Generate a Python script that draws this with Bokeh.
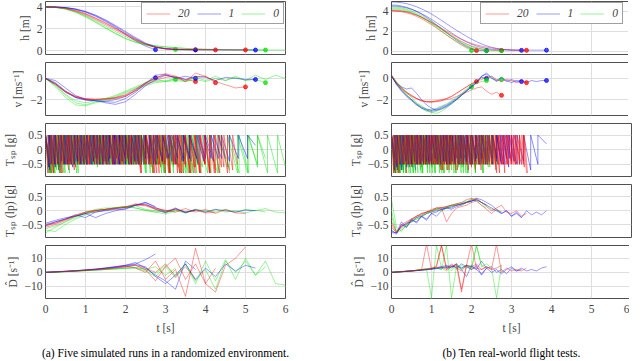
from bokeh.plotting import figure
from bokeh.models import Range1d, FixedTicker, Legend, LegendItem, Title, CustomJSTickFormatter
from bokeh.layouts import row, column
from bokeh.embed import file_html
from bokeh.resources import INLINE

SERIF = "Liberation Serif"
FS = "11.5px"
LINE_COLORS = {"red": "#ff0000", "blue": "#0000ff", "green": "#00e000"}
DRAW_ORDER = ["green", "blue", "red"]
LEGEND_LABELS = [("red", "20"), ("blue", "1"), ("green", "0")]
X_TICKS = [0, 1, 2, 3, 4, 5, 6]

CAPTION_SIM = "(a) Five simulated runs in a randomized environment."
CAPTION_REAL = "(b) Ten real-world flight tests."
YLABELS = ["h [m]", "v [ms\u207b\u00b9]", "T\u209b\u209a [g]", "T\u209b\u209a (lp) [g]", "D\u0302 [s\u207b\u00b9]"]
YTICKS = [[0, 2, 4], [-2, 0], [-0.5, 0, 0.5], [-0.5, 0, 0.5], [-10, 0, 10]]
YRANGES_SIM = [(-0.36, 4.5), (-3.5, 1.5), (-0.92, 0.9), (-0.97, 0.95), (-18.5, 19.0)]
YRANGES_REAL = [(-0.3, 4.95), (-3.5, 1.5), (-0.92, 0.9), (-0.97, 0.95), (-18.5, 19.0)]

# ---------------- simulated runs (left), time grid 0.25 s ----------------
SIM_T = [0.0, 0.25, 0.5, 0.75, 1.0, 1.25, 1.5, 1.75, 2.0, 2.25, 2.5, 2.75, 3.0, 3.25,
         3.5, 3.75, 4.0, 4.25, 4.5, 4.75, 5.0, 5.25, 5.5, 5.75, 6.0]

SIM_H_RED = [
    [4.0, 3.98, 3.9, 3.7, 3.4, 3.0, 2.55, 2.05, 1.55, 1.05, 0.6, 0.3, 0.15, 0.1, 0.08, 0.07],
    [4.0, 3.98, 3.88, 3.66, 3.35, 2.95, 2.5, 2.0, 1.5, 1.0, 0.6, 0.32, 0.18, 0.12, 0.1, 0.08, 0.07, 0.06],
    [4.0, 3.97, 3.86, 3.62, 3.28, 2.85, 2.38, 1.9, 1.42, 0.95, 0.55, 0.3, 0.18, 0.12, 0.1, 0.09, 0.08, 0.07, 0.07, 0.06, 0.06],
]
SIM_H_BLUE = [
    [4.0, 3.99, 3.93, 3.78, 3.52, 3.15, 2.68, 2.12, 1.5, 0.9, 0.4, 0.08],
    [4.0, 3.99, 3.94, 3.8, 3.56, 3.2, 2.75, 2.22, 1.65, 1.1, 0.62, 0.3, 0.15, 0.09, 0.07, 0.06],
    [4.0, 3.99, 3.95, 3.82, 3.6, 3.26, 2.82, 2.3, 1.75, 1.2, 0.7, 0.35, 0.17, 0.11, 0.09, 0.08, 0.07, 0.07, 0.06, 0.06, 0.06, 0.05],
]
SIM_H_GREEN = [
    [4.0, 3.96, 3.82, 3.55, 3.15, 2.65, 2.1, 1.58, 1.1, 0.75, 0.5, 0.32, 0.2, 0.1],
    [4.0, 3.95, 3.8, 3.5, 3.08, 2.58, 2.05, 1.55, 1.1, 0.78, 0.55, 0.42, 0.33, 0.25, 0.2, 0.15, 0.12, 0.1, 0.08, 0.07, 0.06, 0.06, 0.05],
    [4.0, 3.96, 3.83, 3.57, 3.2, 2.75, 2.25, 1.75, 1.28, 0.88, 0.6, 0.45, 0.35, 0.27, 0.2, 0.15, 0.12, 0.1, 0.08, 0.07, 0.06, 0.06, 0.05, 0.05, 0.05],
]

SIM_V_RED = [
    [0, -0.6, -1.3, -1.75, -1.95, -2.0, -1.95, -1.9, -1.7, -1.2, -0.6, -0.2, 0.1, 0.2, -0.1, -0.3],
    [0, -0.5, -1.2, -1.7, -1.9, -2.0, -1.95, -1.85, -1.6, -1.15, -0.5, 0.1, 0.3, 0.05, -0.2, 0.1, 0.2, -0.4],
    [0, -0.55, -1.25, -1.7, -1.95, -1.95, -1.9, -1.8, -1.55, -1.0, -0.45, 0.0, 0.45, 0.2, -0.3, 0.5, 0.2, -0.3, -0.6, -0.9, -0.8],
]
SIM_V_BLUE = [
    [0, -0.2, -0.9, -1.6, -2.0, -2.1, -2.15, -2.0, -1.7, -1.1, -0.4, 0.05],
    [0, -0.4, -1.2, -1.8, -2.0, -2.1, -2.2, -2.25, -1.9, -1.3, -0.5, 0.3, 0.4, 0.0, 0.2, 0.0],
    [0, -0.5, -1.3, -1.8, -2.05, -2.1, -2.3, -2.45, -2.2, -1.5, -0.7, -0.1, 0.3, 0.1, -0.1, 0.2, 0.1, -0.2, 0.1, 0.0, -0.1, -0.1],
]
SIM_V_GREEN = [
    [0, -0.7, -1.6, -2.3, -2.5, -2.2, -2.0, -1.7, -1.3, -0.9, -0.5, -0.3, -0.2, -0.1],
    [0, -0.8, -1.8, -2.5, -2.6, -2.3, -2.1, -1.8, -1.4, -1.0, -0.7, -0.4, -0.3, -0.2, -0.3, -0.1, -0.3, 0.0, -0.2, 0.1, -0.2, -0.1, -0.4],
    [0, -0.6, -1.5, -2.1, -2.3, -2.1, -1.9, -1.6, -1.2, -0.8, -0.4, -0.1, -0.3, 0.0, -0.3, 0.1, -0.2, 0.2, -0.2, 0.2, -0.2, 0.3, -0.1, 0.3, 0.0],
]

# thrust setpoint: spike instants (jump to 0.5) and the low value reached before the next spike
SIM_TSP_SPIKES_RED = [
    [0, .12, .22, .35, .45, .58, .7, .8, .93, 1.05, 1.15, 1.28, 1.4, 1.52, 1.62, 1.75, 1.88, 2.0, 2.1, 2.22, 2.35, 2.48, 2.6, 2.7, 2.82, 2.95, 3.08, 3.2, 3.32, 3.45, 3.58, 3.7],
    [0, .08, .2, .3, .42, .52, .65, .75, .88, 1.0, 1.1, 1.22, 1.35, 1.45, 1.58, 1.7, 1.8, 1.93, 2.05, 2.15, 2.28, 2.4, 2.52, 2.65, 2.78, 2.88, 3.0, 3.12, 3.25, 3.38, 3.5, 3.62, 3.75, 3.88, 4.0, 4.12, 4.25],
    [0, .15, .25, .38, .5, .6, .72, .85, .97, 1.08, 1.2, 1.32, 1.43, 1.55, 1.68, 1.78, 1.9, 2.02, 2.13, 2.25, 2.38, 2.5, 2.62, 2.73, 2.85, 2.98, 3.1, 3.22, 3.35, 3.47, 3.6, 3.72, 3.85, 3.98, 4.1, 4.25, 4.4, 4.55, 4.68, 4.8],
    [0, .06, .13, .19, .26, .32, .39, .45, .52, .58, .65, .71, .78, .84, .91, .97, 1.04, 1.1, 1.17, 1.23, 1.3, 1.36, 1.43, 1.49, 1.56, 1.62, 1.69, 1.75, 1.82, 1.88, 1.95, 2.01, 2.08, 2.14, 2.21, 2.27, 2.34, 2.4, 2.47, 2.53, 2.6, 2.68, 2.76, 2.84, 2.92, 3.0, 3.1, 3.2, 3.3, 3.4, 3.5, 3.62, 3.74, 3.86, 3.98, 4.1, 4.22, 4.34, 4.46, 4.6],
]
SIM_TSP_TROUGHS_RED = [
    [-.8, -.6, -.8, -.5, -.7, -.5, -.5, -.4, -.5, -.5, -.3, -.5, -.5, -.5, -.2, -.5, -.5, -.5, -.4, -.5, -.5, -.5, -.8, -.5, -.5, -.8, -.5, -.6, -.8, -.5, -.8],
    [-.6, -.8, -.5, -.8, -.5, -.5, -.6, -.5, -.3, -.5, -.5, -.5, -.4, -.5, -.5, -.5, -.5, -.3, -.5, -.5, -.8, -.5, -.5, -.8, -.6, -.5, -.8, -.5, -.8, -.5, -.8, -.6, -.8, -.5, -.8, -.7],
    [-.8, -.5, -.8, -.5, -.5, -.7, -.5, -.5, -.5, -.4, -.5, -.5, -.5, -.5, -.3, -.5, -.5, -.5, -.5, -.8, -.5, -.5, -.8, -.5, -.5, -.8, -.5, -.8, -.5, -.8, -.6, -.8, -.5, -.8, -.8, -.6, -.8, -.7, -.5],
    [-.8, -.5, -.8, -.5, -.5, -.5, -.4, -.5, -.5, -.5, -.5, -.3, -.5, -.5, -.5, -.5, -.5, -.4, -.5, -.5, -.5, -.5, -.5, -.5, -.3, -.5, -.5, -.5, -.5, -.5, -.4, -.5, -.5, -.5, -.5, -.5, -.5, -.5, -.5, -.5, -.8, -.5, -.8, -.5, -.8, -.8, -.5, -.8, -.8, -.6, -.8, -.8, -.8, -.5, -.8, -.8, -.8, -.6, -.8],
]
SIM_TSP_SPIKES_BLUE = [
    [0, .1, .2, .33, .45, .55, .68, .8, .9, 1.02, 1.15, 1.25, 1.38, 1.5, 1.6, 1.73, 1.85, 1.97, 2.08, 2.2, 2.32, 2.45, 2.58, 2.7],
    [0, .13, .25, .37, .48, .6, .73, .85, .97, 1.1, 1.22, 1.35, 1.47, 1.6, 1.72, 1.85, 1.98, 2.1, 2.23, 2.36, 2.5, 2.63, 2.78, 2.93, 3.08, 3.25, 3.42, 3.6, 3.8],
    [0, .11, .23, .36, .5, .62, .76, .9, 1.03, 1.17, 1.3, 1.44, 1.58, 1.72, 1.86, 2.0, 2.15, 2.3, 2.45, 2.6, 2.75, 2.92, 3.1, 3.28, 3.46, 3.64, 3.82, 4.0, 4.2, 4.4, 4.6, 4.82, 5.05, 5.25],
    [0, .08, .16, .24, .32, .4, .48, .56, .64, .72, .8, .88, .96, 1.04, 1.12, 1.2, 1.28, 1.36, 1.44, 1.52, 1.6, 1.68, 1.76, 1.84, 1.92, 2.0, 2.08, 2.16, 2.24, 2.32, 2.4, 2.5, 2.6, 2.7, 2.8, 2.92, 3.04, 3.16, 3.3, 3.45, 3.6, 3.78, 3.96, 4.14, 4.32, 4.5],
]
SIM_TSP_TROUGHS_BLUE = [
    [-.6, -.5, -.7, -.5, -.5, -.6, -.5, -.4, -.5, -.5, -.3, -.5, -.4, -.5, -.5, -.2, -.5, -.4, -.5, -.5, -.3, -.5, -.4],
    [-.5, -.6, -.5, -.5, -.4, -.5, -.5, -.5, -.3, -.5, -.5, -.4, -.5, -.5, -.5, -.2, -.5, -.4, -.5, -.5, -.3, -.5, -.4, -.3, -.5, -.4, -.3, -.4],
    [-.7, -.5, -.6, -.5, -.5, -.4, -.5, -.5, -.5, -.3, -.5, -.4, -.5, -.5, -.3, -.5, -.4, -.5, -.3, -.5, -.4, -.3, -.5, -.3, -.4, -.5, -.3, -.4, -.3, -.4, -.3, -.3, .15],
    [-.6, -.5, -.5, -.5, -.4, -.5, -.5, -.5, -.5, -.4, -.5, -.5, -.5, -.5, -.4, -.5, -.5, -.5, -.5, -.3, -.5, -.5, -.5, -.4, -.5, -.5, -.5, -.4, -.5, -.5, -.3, -.4, -.5, -.3, -.4, -.3, -.4, -.3, -.4, -.3, -.3, -.4, -.3, -.3, -.3],
]
SIM_TSP_SPIKES_GREEN = [
    [0, .1, .22, .34, .46, .58, .7, .82, .94, 1.06, 1.18, 1.3, 1.42, 1.54, 1.66, 1.78, 1.9, 2.02, 2.14, 2.26, 2.38, 2.5, 2.62, 2.74, 2.86, 2.98, 3.1, 3.2, 3.3],
    [0, .14, .26, .4, .52, .66, .78, .92, 1.04, 1.18, 1.3, 1.44, 1.56, 1.7, 1.82, 1.96, 2.08, 2.22, 2.36, 2.5, 2.64, 2.8, 2.96, 3.12, 3.3, 3.5, 3.7, 3.92, 4.14, 4.36, 4.6, 4.84, 5.08, 5.3, 5.5],
    [0, .12, .24, .36, .48, .6, .74, .88, 1.0, 1.14, 1.26, 1.4, 1.52, 1.66, 1.8, 1.92, 2.06, 2.2, 2.34, 2.48, 2.64, 2.8, 2.98, 3.16, 3.36, 3.58, 3.8, 4.05, 4.3, 4.55, 4.8, 5.05, 5.3, 5.55, 5.8, 6.0],
    [0, .07, .14, .21, .28, .35, .42, .49, .56, .63, .7, .77, .84, .91, .98, 1.05, 1.12, 1.19, 1.26, 1.33, 1.4, 1.47, 1.54, 1.61, 1.68, 1.75, 1.82, 1.89, 1.96, 2.03, 2.1, 2.17, 2.24, 2.31, 2.38, 2.45, 2.52, 2.6, 2.7, 2.8, 2.9, 3.0, 3.1, 3.2, 3.3, 3.42, 3.54, 3.66, 3.78, 3.9],
]
SIM_TSP_TROUGHS_GREEN = [
    [-.8, -.8, -.6, -.8, -.5, -.5, -.8, -.5, -.5, -.5, -.6, -.5, -.5, -.5, -.5, -.4, -.5, -.5, -.5, -.6, -.5, -.8, -.5, -.5, -.8, -.5, -.6, -.5],
    [-.8, -.6, -.8, -.5, -.5, -.8, -.5, -.5, -.5, -.5, -.5, -.5, -.3, -.5, -.5, -.5, -.5, -.5, -.8, -.5, -.5, -.8, -.8, -.5, -.8, -.8, -.6, -.8, -.8, -.7, -.8, -.8, -.6, -.3],
    [-.8, -.8, -.7, -.5, -.8, -.5, -.5, -.5, -.4, -.5, -.5, -.5, -.5, -.3, -.5, -.5, -.5, -.5, -.5, -.6, -.5, -.8, -.5, -.8, -.8, -.5, -.8, -.8, -.6, -.8, -.8, -.5, -.8, -.8, -.6],
    [-.8, -.8, -.8, -.7, -.8, -.5, -.8, -.5, -.5, -.5, -.5, -.5, -.5, -.5, -.5, -.5, -.5, -.5, -.5, -.5, -.5, -.5, -.5, -.5, -.5, -.5, -.5, -.5, -.5, -.5, -.5, -.5, -.5, -.5, -.5, -.8, -.5, -.8, -.5, -.8, -.5, -.8, -.8, -.5, -.8, -.8, -.8, -.8, -.8],
]

SIM_TLP_RED = [
    [-0.55, -0.45, -0.3, -0.15, -0.05, 0.0, 0.05, 0.08, 0.12, 0.2, 0.22, 0.1, 0.0, 0.05, -0.05, 0.0],
    [-0.6, -0.5, -0.35, -0.2, -0.08, 0.0, 0.05, 0.1, 0.15, 0.22, 0.18, 0.05, -0.05, 0.05, -0.05, 0.03, -0.08, -0.05],
    [-0.5, -0.45, -0.32, -0.18, -0.05, 0.02, 0.05, 0.1, 0.12, 0.25, 0.2, 0.08, 0.02, -0.05, 0.08, -0.05, 0.05, -0.1, 0.05, -0.08, -0.1],
]
SIM_TLP_BLUE = [
    [-0.5, -0.4, -0.3, -0.2, -0.1, -0.05, 0.02, 0.08, 0.12, 0.2, 0.3, 0.15],
    [-0.55, -0.4, -0.3, -0.15, -0.25, -0.05, 0.0, 0.05, 0.05, 0.2, 0.25, 0.05, -0.08, 0.08, -0.05, 0.02],
    [-0.45, -0.35, -0.25, -0.2, -0.1, -0.25, -0.1, 0.0, 0.08, 0.2, 0.3, 0.12, -0.05, 0.1, -0.08, 0.05, -0.05, 0.05, 0.0, -0.05, 0.02, 0.0],
]
SIM_TLP_GREEN = [
    [-0.8, -0.6, -0.4, -0.25, -0.1, 0.0, 0.05, 0.1, 0.15, 0.1, 0.02, -0.05, 0.0, -0.05],
    [-0.7, -0.75, -0.5, -0.3, -0.15, 0.0, 0.05, 0.12, 0.15, 0.1, 0.0, -0.05, -0.12, 0.0, -0.08, 0.02, -0.05, 0.05, -0.05, 0.0, -0.08, 0.02, -0.05],
    [-0.65, -0.55, -0.4, -0.2, -0.05, 0.05, 0.1, 0.1, 0.15, 0.18, 0.05, 0.0, -0.05, 0.02, -0.06, 0.05, 0.0, -0.05, 0.05, -0.05, 0.05, 0.0, 0.08, -0.05, -0.08],
]

SIM_D_RED = [
    [0, 0.3, 0.7, 1, 1.5, 2, 2.5, 3.2, 4, 5, 3, 0, 6, -3, 4, -5],
    [0, 0.4, 0.8, 1.2, 1.6, 2.2, 2.8, 3.5, 4.5, 3, 0, 8, -5, 2, -17, 17, -8, 3],
    [0, 0.3, 0.6, 1, 1.4, 1.8, 2.3, 3, 3.8, 5, 2, -6, 4, 10, -5, 6, -8, -14, 5, 10, 18],
]
SIM_D_BLUE = [
    [0, 0.3, 0.6, 1, 1.5, 2, 3, 4, 5, 6, 9, 13],
    [0, 0.4, 0.8, 1.2, 1.8, 2.4, 3.2, 4, 5, 7, 3, -2, -6, -12, 8, 2],
    [0, 0.3, 0.7, 1.1, 1.6, 2.2, 2.8, 3.6, 4.5, 5.5, 4, -3, -8, -2, 6, -5, 3, -3, 6, 1, 5, 3],
]
SIM_D_GREEN = [
    [0, 0.2, 0.5, 0.8, 1.1, 1.5, 2, 2.5, 3, 3.5, 2, 4, -2, 3],
    [0, 0.2, 0.5, 0.8, 1.2, 1.6, 2, 2.4, 2.8, 3, 1, -3, 4, -4, 6, -6, 2, -12, 8, 0, 8, -2, 4],
    [0, 0.3, 0.6, 0.9, 1.3, 1.7, 2.1, 2.5, 3, 3.5, 2, -1, 5, -2, 6, -8, 8, -6, 9, -5, 10, -2, 8, -8, -9],
]

# ---------------- real flights (right), time grid 0.125 s ----------------
REAL_T = [0.0, 0.125, 0.25, 0.375, 0.5, 0.625, 0.75, 0.875, 1.0, 1.125, 1.25, 1.375, 1.5, 1.625,
          1.75, 1.875, 2.0, 2.125, 2.25, 2.375, 2.5, 2.625, 2.75, 2.875, 3.0, 3.125, 3.25, 3.375,
          3.5, 3.625, 3.75, 3.875]

REAL_H_RED = [
    [4.0, 3.98, 3.93, 3.83, 3.68, 3.48, 3.24, 2.96, 2.65, 2.32, 1.98, 1.64, 1.3, 0.98, 0.68, 0.42, 0.22, 0.1],
    [4.1, 4.08, 4.03, 3.94, 3.8, 3.62, 3.4, 3.14, 2.85, 2.54, 2.22, 1.9, 1.58, 1.28, 1.0, 0.75, 0.54, 0.38, 0.26, 0.18, 0.13, 0.11, 0.1],
    [4.05, 4.03, 3.98, 3.9, 3.77, 3.6, 3.39, 3.15, 2.88, 2.6, 2.3, 2.0, 1.72, 1.45, 1.2, 0.98, 0.8, 0.65, 0.53, 0.43, 0.35, 0.28, 0.22, 0.18, 0.15, 0.13, 0.12, 0.11],
]
REAL_H_BLUE = [
    [4.6, 4.58, 4.5, 4.38, 4.2, 3.98, 3.7, 3.38, 3.02, 2.64, 2.25, 1.86, 1.48, 1.12, 0.8, 0.52, 0.3, 0.16, 0.1, 0.08],
    [4.9, 4.88, 4.83, 4.74, 4.6, 4.43, 4.22, 3.98, 3.7, 3.4, 3.08, 2.75, 2.42, 2.1, 1.8, 1.5, 1.22, 0.97, 0.75, 0.56, 0.42, 0.31, 0.23, 0.17, 0.14, 0.12, 0.11],
    [4.5, 4.48, 4.42, 4.32, 4.17, 3.98, 3.75, 3.48, 3.18, 2.86, 2.52, 2.18, 1.84, 1.52, 1.22, 0.95, 0.72, 0.54, 0.4, 0.3, 0.23, 0.19, 0.16, 0.15, 0.14, 0.14, 0.13, 0.13, 0.13, 0.13, 0.13, 0.13],
]
REAL_H_GREEN = [
    [4.3, 4.28, 4.22, 4.1, 3.92, 3.7, 3.42, 3.1, 2.75, 2.38, 2.0, 1.64, 1.28, 0.95, 0.62, 0.35, 0.1],
    [4.4, 4.38, 4.32, 4.2, 4.03, 3.82, 3.56, 3.27, 2.95, 2.6, 2.24, 1.88, 1.52, 1.18, 0.86, 0.58, 0.36, 0.2, 0.12, 0.08],
    [4.2, 4.18, 4.12, 4.0, 3.84, 3.63, 3.38, 3.1, 2.8, 2.48, 2.15, 1.82, 1.5, 1.2, 0.92, 0.68, 0.48, 0.33, 0.22, 0.15, 0.11, 0.09, 0.08],
]

REAL_V_RED = [
    [0.2, -0.5, -1.0, -1.4, -1.7, -1.9, -2.1, -2.2, -2.2, -2.1, -2.0, -1.9, -1.7, -1.4, -1.1, -0.8, -0.5, -0.3],
    [0.2, -0.4, -0.9, -1.3, -1.6, -1.9, -2.1, -2.2, -2.2, -2.15, -2.1, -2.0, -1.9, -1.7, -1.5, -1.3, -1.1, -0.9, -0.8, -1.2, -1.5, -1.3, -1.6],
    [0.3, -0.4, -0.9, -1.3, -1.6, -1.9, -2.1, -2.2, -2.25, -2.2, -2.1, -1.9, -1.7, -1.4, -1.1, -0.8, -0.5, -0.3, -0.1, 0.1, 0.2, -0.1, -0.3, -0.1, -0.2, -0.4, -0.3, -0.4],
]
REAL_V_BLUE = [
    [0.2, -0.5, -0.8, -1.0, -0.9, -1.4, -2.0, -2.5, -2.8, -3.0, -2.9, -2.7, -2.4, -2.0, -1.6, -1.2, -0.8, -0.4, 0.1, 0.0],
    [0.3, -0.6, -1.2, -1.7, -2.1, -2.5, -2.8, -3.0, -3.1, -3.0, -2.8, -2.6, -2.3, -2.0, -1.6, -1.2, -0.8, -0.4, 0.2, 0.5, 0.1, -0.3, 0.0, -0.2, -0.4, -0.2, -0.3],
    [0.2, -0.5, -1.1, -1.6, -2.0, -2.4, -2.7, -2.9, -3.0, -2.9, -2.7, -2.5, -2.2, -1.9, -1.5, -1.1, -0.7, -0.3, 0.2, 0.4, 0.0, -0.2, 0.1, -0.3, -0.1, -0.3, -0.2, -0.4, -0.2, -0.3, -0.2, -0.2],
]
REAL_V_GREEN = [
    [0.3, -0.5, -1.1, -1.6, -2.0, -2.4, -2.8, -3.0, -3.2, -3.3, -3.1, -2.8, -2.4, -2.0, -1.6, -1.2, -0.8],
    [0.2, -0.4, -1.0, -1.5, -2.0, -2.5, -2.8, -3.1, -3.2, -3.1, -2.9, -2.6, -2.3, -2.0, -1.6, -1.2, -0.8, -0.5, -0.3, -0.2],
    [0.3, -0.3, -0.8, -1.3, -1.8, -2.3, -2.6, -2.9, -3.0, -2.8, -2.6, -2.4, -2.1, -1.8, -1.4, -1.0, -0.6, -0.3, 0.1, -0.1, 0.2, -0.2, -0.1],
]

REAL_TSP_SPIKES_RED = [
    [0, .09, .19, .28, .38, .47, .57, .66, .76, .85, .95, 1.04, 1.14, 1.23, 1.33, 1.42, 1.52, 1.61, 1.71, 1.8, 1.9, 2.0, 2.125],
    [0, .11, .21, .32, .42, .53, .63, .74, .84, .95, 1.05, 1.16, 1.26, 1.37, 1.47, 1.58, 1.68, 1.79, 1.89, 2.0, 2.1, 2.21, 2.31, 2.42, 2.52, 2.63, 2.75],
    [0, .1, .2, .3, .4, .5, .6, .7, .8, .9, 1.0, 1.1, 1.2, 1.3, 1.4, 1.5, 1.6, 1.7, 1.8, 1.9, 2.0, 2.1, 2.2, 2.3, 2.4, 2.5, 2.6, 2.7, 2.8, 2.9, 3.0, 3.1, 3.2, 3.3, 3.375],
    [0, .05, .11, .16, .21, .27, .32, .37, .43, .48, .53, .59, .64, .69, .75, .8, .85, .91, .96, 1.01, 1.07, 1.12, 1.17, 1.23, 1.28, 1.33, 1.39, 1.44, 1.49, 1.55, 1.6, 1.65, 1.71, 1.76, 1.81, 1.87, 1.92, 1.97, 2.03, 2.08, 2.13, 2.19, 2.24, 2.29, 2.35, 2.4, 2.45, 2.51, 2.56, 2.61, 2.67, 2.72, 2.77, 2.83, 2.88, 2.93, 2.99, 3.04, 3.09, 3.15, 3.2, 3.26, 3.32, 3.4],
]
REAL_TSP_TROUGHS_RED = [
    [-.8, -.8, -.5, -.8, -.5, -.5, -.5, -.6, -.5, -.5, -.5, -.5, -.7, -.5, -.5, -.5, -.7, -.5, -.5, -.5, -.6, -.5],
    [-.5, -.8, -.5, -.5, -.5, -.5, -.5, -.5, -.5, -.5, -.5, -.7, -.5, -.5, -.5, -.5, -.5, -.5, -.5, -.7, -.5, -.5, -.5, -.5, -.8, -.5],
    [-.8, -.5, -.5, -.5, -.6, -.5, -.5, -.5, -.5, -.5, -.5, -.5, -.5, -.7, -.5, -.5, -.5, -.5, -.5, -.5, -.7, -.5, -.5, -.5, -.5, -.5, -.8, -.5, -.5, -.5, -.5, -.5, -.5, -.8],
    [-.8, -.5, -.8, -.5, -.5, -.5, -.5, -.5, -.5, -.5, -.5, -.5, -.5, -.5, -.5, -.5, -.5, -.5, -.5, -.5, -.5, -.5, -.5, -.7, -.5, -.5, -.7, -.5, -.5, -.5, -.7, -.5, -.5, -.5, -.5, -.7, -.5, -.5, -.5, -.5, -.5, -.7, -.5, -.5, -.5, -.5, -.5, -.5, -.7, -.5, -.5, -.5, -.8, -.5, -.5, -.5, -.5, -.5, -.5, -.5, -.5, -.6, -.8],
]
REAL_TSP_SPIKES_BLUE = [
    [0, .15, .3, .45, .6, .72, .86, .98, 1.1, 1.22, 1.35, 1.47, 1.6, 1.72, 1.85, 1.97, 2.1, 2.22, 2.375],
    [0, .13, .26, .4, .53, .66, .8, .93, 1.06, 1.2, 1.33, 1.46, 1.6, 1.73, 1.86, 2.0, 2.13, 2.26, 2.4, 2.53, 2.66, 2.8, 2.93, 3.06, 3.25],
    [0, .12, .25, .38, .5, .63, .76, .88, 1.0, 1.13, 1.26, 1.38, 1.5, 1.63, 1.76, 1.88, 2.0, 2.13, 2.26, 2.38, 2.5, 2.63, 2.76, 2.88, 3.0, 3.13, 3.3, 3.48, 3.66, 3.875],
    [0, .07, .14, .22, .29, .36, .43, .51, .58, .65, .72, .8, .87, .94, 1.01, 1.09, 1.16, 1.23, 1.3, 1.38, 1.45, 1.52, 1.59, 1.67, 1.74, 1.81, 1.88, 1.96, 2.03, 2.1, 2.18, 2.26, 2.35, 2.44, 2.53, 2.63, 2.73, 2.84, 2.95, 3.08],
]
REAL_TSP_TROUGHS_BLUE = [
    [-.7, -.7, -.6, -.7, -.5, -.5, -.4, -.5, -.5, -.4, -.5, -.4, -.5, -.4, -.5, -.3, -.5, -.2],
    [-.6, -.7, -.5, -.6, -.5, -.5, -.4, -.5, -.5, -.4, -.5, -.4, -.4, -.5, -.4, -.3, -.5, -.4, -.3, -.5, -.5, -.6, -.4, -.5],
    [-.6, -.7, -.6, -.5, -.5, -.4, -.5, -.5, -.4, -.5, -.5, -.4, -.3, -.5, -.4, -.5, -.3, -.4, -.5, -.3, -.4, -.5, -.3, -.4, -.5, -.4, -.7, -.5, .2],
    [-.7, -.6, -.5, -.5, -.4, -.5, -.5, -.4, -.5, -.5, -.5, -.4, -.5, -.5, -.3, -.5, -.5, -.4, -.5, -.5, -.4, -.5, -.5, -.3, -.5, -.4, -.5, -.5, -.4, -.5, -.3, -.5, -.4, -.5, -.3, -.4, -.5, -.3, -.4],
]
REAL_TSP_SPIKES_GREEN = [
    [0, .08, .18, .26, .36, .45, .55, .64, .74, .83, .93, 1.02, 1.12, 1.21, 1.31, 1.4, 1.5, 1.6, 1.7, 1.8, 1.9, 2.0],
    [0, .1, .2, .3, .4, .5, .6, .7, .8, .9, 1.0, 1.1, 1.2, 1.3, 1.4, 1.5, 1.6, 1.7, 1.8, 1.9, 2.0, 2.1, 2.2, 2.3, 2.375],
    [0, .12, .22, .34, .44, .56, .66, .78, .88, 1.0, 1.1, 1.22, 1.32, 1.44, 1.54, 1.66, 1.76, 1.88, 1.98, 2.1, 2.2, 2.32, 2.42, 2.54, 2.64, 2.75],
    [0, .06, .12, .18, .24, .3, .36, .42, .48, .54, .6, .66, .72, .78, .84, .9, .96, 1.02, 1.08, 1.14, 1.2, 1.26, 1.32, 1.38, 1.44, 1.5, 1.56, 1.62, 1.68, 1.74, 1.8, 1.86, 1.92, 1.98, 2.04, 2.1, 2.16, 2.22, 2.28, 2.34, 2.4, 2.46, 2.52, 2.6],
]
REAL_TSP_TROUGHS_GREEN = [
    [-.8, -.8, -.6, -.8, -.5, -.8, -.5, -.8, -.5, -.5, -.8, -.5, -.6, -.8, -.5, -.5, -.8, -.5, -.6, -.8, -.5],
    [-.8, -.6, -.8, -.5, -.5, -.8, -.5, -.5, -.6, -.5, -.8, -.5, -.5, -.5, -.7, -.5, -.5, -.8, -.5, -.5, -.6, -.5, -.8, -.4],
    [-.7, -.8, -.5, -.8, -.5, -.5, -.8, -.5, -.6, -.5, -.5, -.8, -.5, -.5, -.5, -.6, -.5, -.5, -.8, -.5, -.5, -.6, -.5, -.5, -.3],
    [-.8, -.8, -.8, -.7, -.8, -.8, -.6, -.8, -.8, -.5, -.8, -.7, -.8, -.5, -.8, -.8, -.6, -.8, -.5, -.8, -.8, -.5, -.7, -.8, -.5, -.8, -.8, -.6, -.8, -.5, -.8, -.8, -.5, -.5, -.8, -.5, -.5, -.8, -.5, -.5, -.6, -.5, -.5],
]

REAL_TLP_RED = [
    [-0.5, -0.8, -0.6, -0.45, -0.3, -0.2, -0.1, -0.05, 0.0, 0.05, 0.1, -0.4, -0.1, 0.1, 0.15, 0.2, 0.3, 0.35],
    [-0.4, -0.75, -0.55, -0.5, -0.35, -0.2, -0.1, -0.05, 0.05, 0.1, 0.12, 0.15, 0.2, 0.25, 0.3, 0.4, 0.45, 0.35, 0.2, 0.05, -0.1, 0.05, -0.05],
    [-0.6, -0.8, -0.5, -0.4, -0.3, -0.2, -0.15, -0.05, 0.0, 0.1, 0.1, 0.15, 0.2, 0.2, 0.25, 0.3, 0.4, 0.45, 0.3, 0.15, 0.0, 0.1, 0.2, -0.05, -0.1, 0.0, -0.2, -0.1],
]
REAL_TLP_BLUE = [
    [-0.8, -0.8, -0.4, -0.6, -0.3, -0.45, -0.2, -0.35, -0.1, -0.2, 0.0, 0.1, 0.05, 0.15, 0.2, 0.3, 0.35, 0.4, 0.3, 0.2],
    [-0.7, -0.85, -0.5, -0.6, -0.35, -0.4, -0.2, -0.3, -0.1, -0.05, 0.05, 0.1, 0.15, 0.2, 0.25, 0.3, 0.35, 0.45, 0.4, 0.3, 0.2, 0.05, -0.1, 0.0, -0.2, -0.05, -0.25],
    [-0.75, -0.8, -0.55, -0.45, -0.4, -0.25, -0.2, -0.1, -0.05, 0.0, 0.05, 0.1, 0.1, 0.2, 0.25, 0.3, 0.35, 0.4, 0.3, 0.2, 0.1, 0.0, -0.1, 0.0, -0.2, -0.1, -0.25, 0.0, -0.15, -0.05, -0.15, 0.0],
]
REAL_TLP_GREEN = [
    [0.4, -0.6, -0.75, -0.5, -0.35, -0.25, -0.15, -0.05, 0.0, 0.1, 0.05, 0.15, 0.2, 0.25, 0.3, 0.35, 0.3],
    [-0.2, -0.8, -0.7, -0.55, -0.4, -0.3, -0.25, -0.1, 0.0, 0.05, 0.12, 0.1, 0.2, 0.25, 0.2, 0.3, 0.4, 0.35, 0.2, 0.1],
    [0.0, -0.75, -0.65, -0.5, -0.4, -0.3, -0.2, -0.1, -0.05, 0.05, 0.0, 0.1, 0.15, 0.2, 0.25, 0.3, 0.45, 0.4, 0.3, 0.2, 0.05, 0.0, -0.05],
]

REAL_D_RED = [
    [0, 0.2, 0.4, 0.7, 1, 1.4, 1.8, 20, 2, 5, 19, 3, 4, 6, -12, 5, 2, 4],
    [0, 0.3, 0.5, 0.8, 1.1, 1.5, 2, 2.5, 3, 4, 19, 2, 4, 6, -14, 5, 20, 3, 2, 4, 2, 3, 5],
    [0, 0.2, 0.5, 0.8, 1, 1.4, 1.8, 2.2, 2.8, 3.5, 4, 2, 6, 3, 1, 5, 4, 6, 2, 4, 2, 20, 0, 3, 1, 2, 1, 3],
]
REAL_D_BLUE = [
    [0, 0.2, 0.5, 0.8, 1, 1.3, 1.7, 2, 2.5, 3, 4, 5, 3, 6, 2, -3, 5, 2, 8, 3],
    [0, 0.3, 0.5, 0.7, 1, 1.3, 1.6, 2, 2.4, 3, 3.5, 4, 5, 3, 6, 4, 2, 5, -2, 3, 4, 0, 2, -1, 3, 1, 2],
    [0, 0.2, 0.4, 0.7, 1, 1.2, 1.5, 1.8, 2.2, 2.6, 3, 3.5, 4, 4.5, 3, 5, 4, 2, -1, 3, 0, 2, -1, 2, 4, 1, 3, 1, 2, 1, 3, 4],
]
REAL_D_GREEN = [
    [0, 0.3, 0.5, 0.8, 1, 1.5, 2, 2.5, -18, 19, 3, 1, 4, 2, 5, 3, 5],
    [0, 0.2, 0.5, 0.7, 1, 1.2, 1.6, 2, 2.5, 3, 2, 19, -18, 4, 2, 5, 3, 19, 5, 3],
    [0, 0.3, 0.6, 0.8, 1.2, 1.5, 2, 2.4, 3, 3.5, 2, 5, 1, 6, 3, 5, 2, 19, 4, 6, 3, -18, 5],
]


def sawtooth(spikes, troughs):
    xs, ys = [spikes[0]], [0.5]
    n = min(len(troughs), len(spikes) - 1)
    for i in range(n):
        xs.append(spikes[i + 1])
        ys.append(troughs[i])
        if i < n - 1:
            xs.append(spikes[i + 1])
            ys.append(0.5)
    return xs, ys


def grid_series(t, runs):
    return [(t[:len(v)], v) for v in runs]


def style_axis(ax):
    ax.major_label_text_font = SERIF
    ax.major_label_text_font_size = FS
    ax.axis_label_text_font = SERIF
    ax.axis_label_text_font_size = FS
    ax.axis_label_text_font_style = "normal"
    ax.major_tick_in = 0
    ax.major_tick_out = 0
    ax.minor_tick_in = 0
    ax.minor_tick_out = 0
    ax.axis_line_color = None
    ax.major_label_standoff = 3
    ax.axis_label_standoff = 3
    ax.formatter = CustomJSTickFormatter(code="return tick < 0 ? '\u2212' + (-tick) : '' + tick;")


def make_panel(idx, yr, series, left_col, dots, legend, caption):
    p = figure(frame_width=240, frame_height=53, x_range=Range1d(0, 6), y_range=Range1d(*yr),
               output_backend="svg", toolbar_location=None,
               min_border_left=41, min_border_right=61 if left_col else 1,
               min_border_top=1 if idx == 0 else 4, min_border_bottom=4)
    p.outline_line_color = "#505050"
    p.outline_line_width = 1
    p.background_fill_color = "white"
    p.border_fill_color = "white"
    p.xgrid.grid_line_color = "#dedede"
    p.ygrid.grid_line_color = "#dedede"
    p.xaxis.ticker = FixedTicker(ticks=X_TICKS)
    p.yaxis.ticker = FixedTicker(ticks=YTICKS[idx])
    p.yaxis.axis_label = YLABELS[idx]
    style_axis(p.yaxis)
    style_axis(p.xaxis)
    if idx == 4:
        p.xaxis.axis_label = "t [s]"
        p.xaxis.major_label_standoff = 6
        p.xaxis.axis_label_standoff = 6
        p.add_layout(Title(text=caption, align="center", text_font=SERIF, text_font_size=FS,
                           text_font_style="normal", text_color="black", standoff=16), "below")
    else:
        p.xaxis.visible = False

    first = {}
    width = 0.9 if idx == 2 else 0.8
    nruns = max(len(v) for v in series.values())
    for i in range(nruns):
        for c in DRAW_ORDER:
            if i >= len(series[c]):
                continue
            xs, ys = series[c][i]
            r = p.line(xs, ys, line_color=LINE_COLORS[c], line_alpha=0.5, line_width=width)
            first.setdefault(c, r)
            if dots and xs[-1] < 6:
                p.scatter([xs[-1]], [ys[-1]], size=4, color=LINE_COLORS[c], alpha=0.7)
    if legend:
        lg = Legend(items=[LegendItem(label=lab, renderers=[first[c]]) for c, lab in LEGEND_LABELS],
                    location="top_right", orientation="horizontal",
                    label_text_font=SERIF, label_text_font_style="italic", label_text_font_size=FS,
                    label_width=4, label_height=12, glyph_width=24, glyph_height=11,
                    label_standoff=8, spacing=7, padding=4, margin=1,
                    border_line_color="#404040", border_line_width=1, background_fill_alpha=1)
        p.add_layout(lg)
    return p


def build_column(t, data, yranges, left_col, caption):
    panels = []
    for idx in range(5):
        series = {}
        for c in ["red", "blue", "green"]:
            if idx == 2:
                spikes, troughs = data[2][c]
                series[c] = [sawtooth(s, tr) for s, tr in zip(spikes, troughs)]
            else:
                series[c] = grid_series(t, data[idx][c])
        panels.append(make_panel(idx, yranges[idx], series, left_col, dots=idx in (0, 1),
                                 legend=idx == 0, caption=caption))
    return column(*panels)


SIM_DATA = [
    {"red": SIM_H_RED, "blue": SIM_H_BLUE, "green": SIM_H_GREEN},
    {"red": SIM_V_RED, "blue": SIM_V_BLUE, "green": SIM_V_GREEN},
    {"red": (SIM_TSP_SPIKES_RED, SIM_TSP_TROUGHS_RED), "blue": (SIM_TSP_SPIKES_BLUE, SIM_TSP_TROUGHS_BLUE),
     "green": (SIM_TSP_SPIKES_GREEN, SIM_TSP_TROUGHS_GREEN)},
    {"red": SIM_TLP_RED, "blue": SIM_TLP_BLUE, "green": SIM_TLP_GREEN},
    {"red": SIM_D_RED, "blue": SIM_D_BLUE, "green": SIM_D_GREEN},
]
REAL_DATA = [
    {"red": REAL_H_RED, "blue": REAL_H_BLUE, "green": REAL_H_GREEN},
    {"red": REAL_V_RED, "blue": REAL_V_BLUE, "green": REAL_V_GREEN},
    {"red": (REAL_TSP_SPIKES_RED, REAL_TSP_TROUGHS_RED), "blue": (REAL_TSP_SPIKES_BLUE, REAL_TSP_TROUGHS_BLUE),
     "green": (REAL_TSP_SPIKES_GREEN, REAL_TSP_TROUGHS_GREEN)},
    {"red": REAL_TLP_RED, "blue": REAL_TLP_BLUE, "green": REAL_TLP_GREEN},
    {"red": REAL_D_RED, "blue": REAL_D_BLUE, "green": REAL_D_GREEN},
]

left = build_column(SIM_T, SIM_DATA, YRANGES_SIM, True, CAPTION_SIM)
right = build_column(REAL_T, REAL_DATA, YRANGES_REAL, False, CAPTION_REAL)
layout = row(left, right)

open("out.html", "w").write(file_html(layout, INLINE))
